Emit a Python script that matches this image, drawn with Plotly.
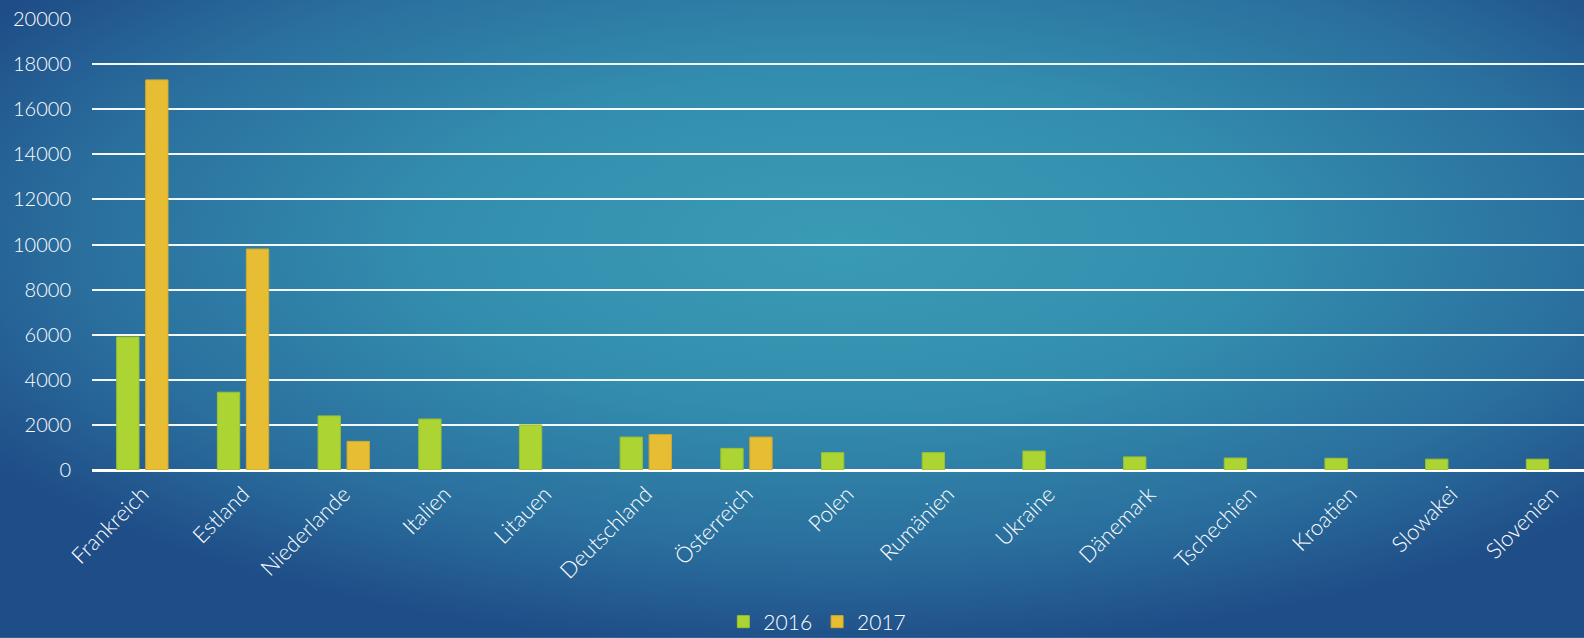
import plotly.graph_objects as go
import urllib.parse

categories = ["Frankreich", "Estland", "Niederlande", "Italien", "Litauen", "Deutschland",
              "Österreich", "Polen", "Rumänien", "Ukraine", "Dänemark", "Tschechien",
              "Kroatien", "Slowakei", "Slovenien"]
values_2016 = [5900, 3450, 2400, 2260, 2000, 1460, 960, 770, 770, 840, 580, 530, 520, 480, 480]
values_2017 = [17300, 9800, 1270, None, None, 1570, 1460, None, None, None, None, None, None, None, None]
y_ticks = [0, 2000, 4000, 6000, 8000, 10000, 12000, 14000, 16000, 18000, 20000]

FONT = "Lato"

svg = (
    '<svg xmlns="http://www.w3.org/2000/svg" width="1584" height="638" viewBox="0 0 1584 638" preserveAspectRatio="none">'
    '<defs><radialGradient id="g" cx="0.53" cy="0.38" r="0.64">'
    '<stop offset="0" stop-color="#3a9bb5"/>'
    '<stop offset="0.4" stop-color="#338eae"/>'
    '<stop offset="0.75" stop-color="#2a6f9e"/>'
    '<stop offset="1" stop-color="#1f4d87"/>'
    '</radialGradient></defs>'
    '<rect x="0" y="0" width="1584" height="638" fill="url(#g)"/></svg>'
)
bg_uri = "data:image/svg+xml;charset=utf-8," + urllib.parse.quote(svg)

fig = go.Figure()
fig.add_trace(go.Bar(name="2016", x=categories, y=values_2016,
                     marker=dict(color="#acd433", line=dict(color="#9cc02e", width=1))))
fig.add_trace(go.Bar(name="2017", x=categories, y=values_2017,
                     marker=dict(color="#e6bd33", line=dict(color="#d2aa2c", width=1))))

L, R, T, B = 92, 0, 19, 167.5
W, H = 1584, 638
pw = W - L - R
ph = H - T - B

fig.add_layout_image(dict(
    source=bg_uri, xref="paper", yref="paper",
    x=-L / pw, y=1 + T / ph, sizex=W / pw, sizey=H / ph,
    xanchor="left", yanchor="top", sizing="stretch", layer="below"))

fig.update_layout(
    width=W, height=H,
    margin=dict(l=L, r=R, t=T, b=B, pad=0, autoexpand=False),
    paper_bgcolor="#276a9a",
    plot_bgcolor="rgba(0,0,0,0)",
    barmode="group",
    bargap=0.424,
    bargroupgap=0.23,
    font=dict(family=FONT, color="white", size=19, weight=300),
    showlegend=True,
    legend=dict(orientation="h", x=0.516, xref="container", xanchor="center",
                y=(638 - 622) / 638, yref="container", yanchor="middle",
                font=dict(size=21, color="white", weight=300), traceorder="normal",
                itemwidth=30, bgcolor="rgba(0,0,0,0)"),
)
fig.update_xaxes(
    range=[-0.5, 14.318], tickangle=-45, showgrid=False,
    showline=False, ticks="", ticklabelstandoff=6,
    tickfont=dict(size=22, color="white", weight=300),
)
fig.update_yaxes(
    range=[0, 20000], tickvals=y_ticks, ticktext=[str(v) for v in y_ticks],
    showgrid=True, gridcolor="rgba(255,255,255,0.95)", gridwidth=1.5,
    zeroline=True, zerolinecolor="white", zerolinewidth=3,
    ticks="", ticklabelstandoff=20, tickfont=dict(size=20, color="white", weight=300),
)

fig.write_html("out.html", config={"displayModeBar": False},
               post_script="document.body.style.margin='0';document.body.style.overflow='hidden';")
